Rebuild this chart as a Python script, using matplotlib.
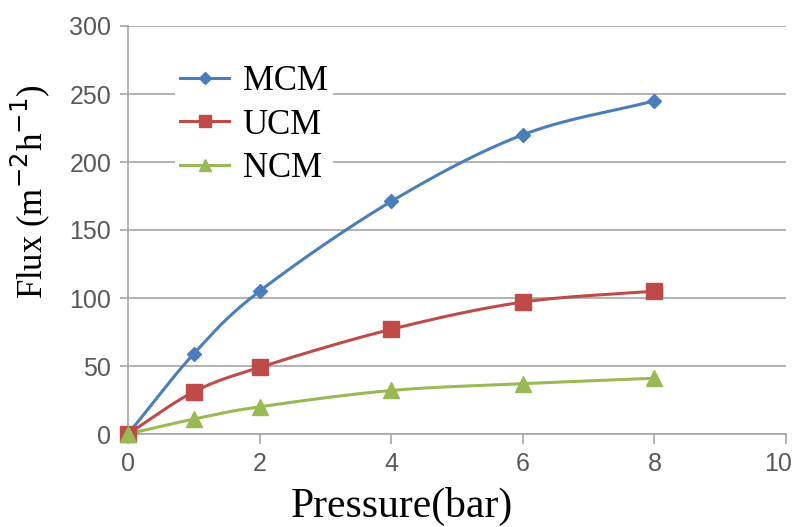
import numpy as np
import matplotlib
matplotlib.use("Agg")
import matplotlib.pyplot as plt
from matplotlib.lines import Line2D
from matplotlib.transforms import ScaledTranslation

pressure = [0, 1, 2, 4, 6, 8]
mcm = [0, 59, 105, 171, 220, 245]
ucm = [0, 31, 49, 77, 97, 105]
ncm = [0, 11, 20, 32, 37, 41]

series_names = ["MCM", "UCM", "NCM"]
colors = ["#4A7EBB", "#BE4B48", "#98B954"]
markers = ["D", "s", "^"]
marker_sizes = [7, 11, 11]

x_ticks = [0, 2, 4, 6, 8, 10]
y_ticks = [0, 50, 100, 150, 200, 250, 300]


def smooth(x, y, n=30):
    """Catmull-Rom curve through the points, like a spreadsheet's smoothed line."""
    x = np.asarray(x, float)
    y = np.asarray(y, float)
    px = np.concatenate([[2 * x[0] - x[1]], x, [2 * x[-1] - x[-2]]])
    py = np.concatenate([[2 * y[0] - y[1]], y, [2 * y[-1] - y[-2]]])
    xs, ys = [], []
    for i in range(1, len(px) - 2):
        t = np.linspace(0, 1, n, endpoint=False)
        for p, out in ((px, xs), (py, ys)):
            p0, p1, p2, p3 = p[i - 1], p[i], p[i + 1], p[i + 2]
            out.append(0.5 * ((2 * p1) + (-p0 + p2) * t
                              + (2 * p0 - 5 * p1 + 4 * p2 - p3) * t ** 2
                              + (-p0 + 3 * p1 - 3 * p2 + p3) * t ** 3))
    xs.append([x[-1]])
    ys.append([y[-1]])
    return np.concatenate(xs), np.concatenate(ys)


fig = plt.figure(figsize=(7.94, 5.27), dpi=100)
ax = fig.add_axes([128 / 794, 1 - 434 / 527, (786 - 128) / 794, (434 - 26) / 527])

handles = []
for vals, name, c, m, ms in zip([mcm, ucm, ncm], series_names, colors, markers, marker_sizes):
    sx, sy = smooth(pressure, vals)
    ax.plot(sx, sy, color=c, lw=2.2, zorder=3, clip_on=False)
    ax.plot(pressure, vals, ls="none", marker=m, ms=ms, color=c, zorder=4, clip_on=False)
    handles.append(Line2D([], [], color=c, lw=2.2, marker=m, ms=ms * 0.85, label=name))

ax.set_xlim(0, 10)
ax.set_ylim(0, 300)
ax.set_xticks(x_ticks)
ax.set_yticks(y_ticks)
ax.grid(axis="y", color="#A6A6A6", lw=1.2)
ax.set_axisbelow(True)
for s in ("top", "right"):
    ax.spines[s].set_visible(False)
for s in ("left", "bottom"):
    ax.spines[s].set_color("#A6A6A6")
    ax.spines[s].set_linewidth(1.2)
ax.tick_params(axis="x", direction="out", length=7, width=1.2, color="#A6A6A6",
               labelsize=18, labelcolor="#595959", pad=6)
ax.tick_params(axis="y", direction="out", length=6, width=1.2, color="#A6A6A6",
               labelsize=18, labelcolor="#595959", pad=6)
for lab in ax.get_xticklabels() + ax.get_yticklabels():
    lab.set_family("Liberation Sans")
# keep the last x tick label inside the figure edge
last = ax.get_xticklabels()[-1]
last.set_transform(last.get_transform() + ScaledTranslation(-8 / 100, 0, fig.dpi_scale_trans))

serif = "Liberation Serif"
ax.set_xlabel("Pressure(bar)", fontsize=30, family=serif)
ax.xaxis.set_label_coords((402 - 128) / 658, -(527 - 434 - 1) / 408, transform=ax.transAxes)
ax.xaxis.label.set_va("bottom")
ax.set_ylabel(r"Flux (m$^{-2}$h$^{-1}$)", fontsize=25, family=serif)
ax.yaxis.set_label_coords(-(128 - 30) / 658, (434 - 192) / 408)
ax.yaxis.label.set_va("center")

leg = ax.legend(handles=handles, loc="upper left",
                bbox_to_anchor=((175 - 128) / 658, (434 - 60) / 408),
                prop={"family": serif, "size": 25}, frameon=True, fancybox=False,
                edgecolor="none", facecolor="white", framealpha=1,
                handlelength=1.4, handletextpad=0.4, labelspacing=0.3,
                borderpad=0.15, borderaxespad=0)

fig.savefig("out.png", dpi=100)
